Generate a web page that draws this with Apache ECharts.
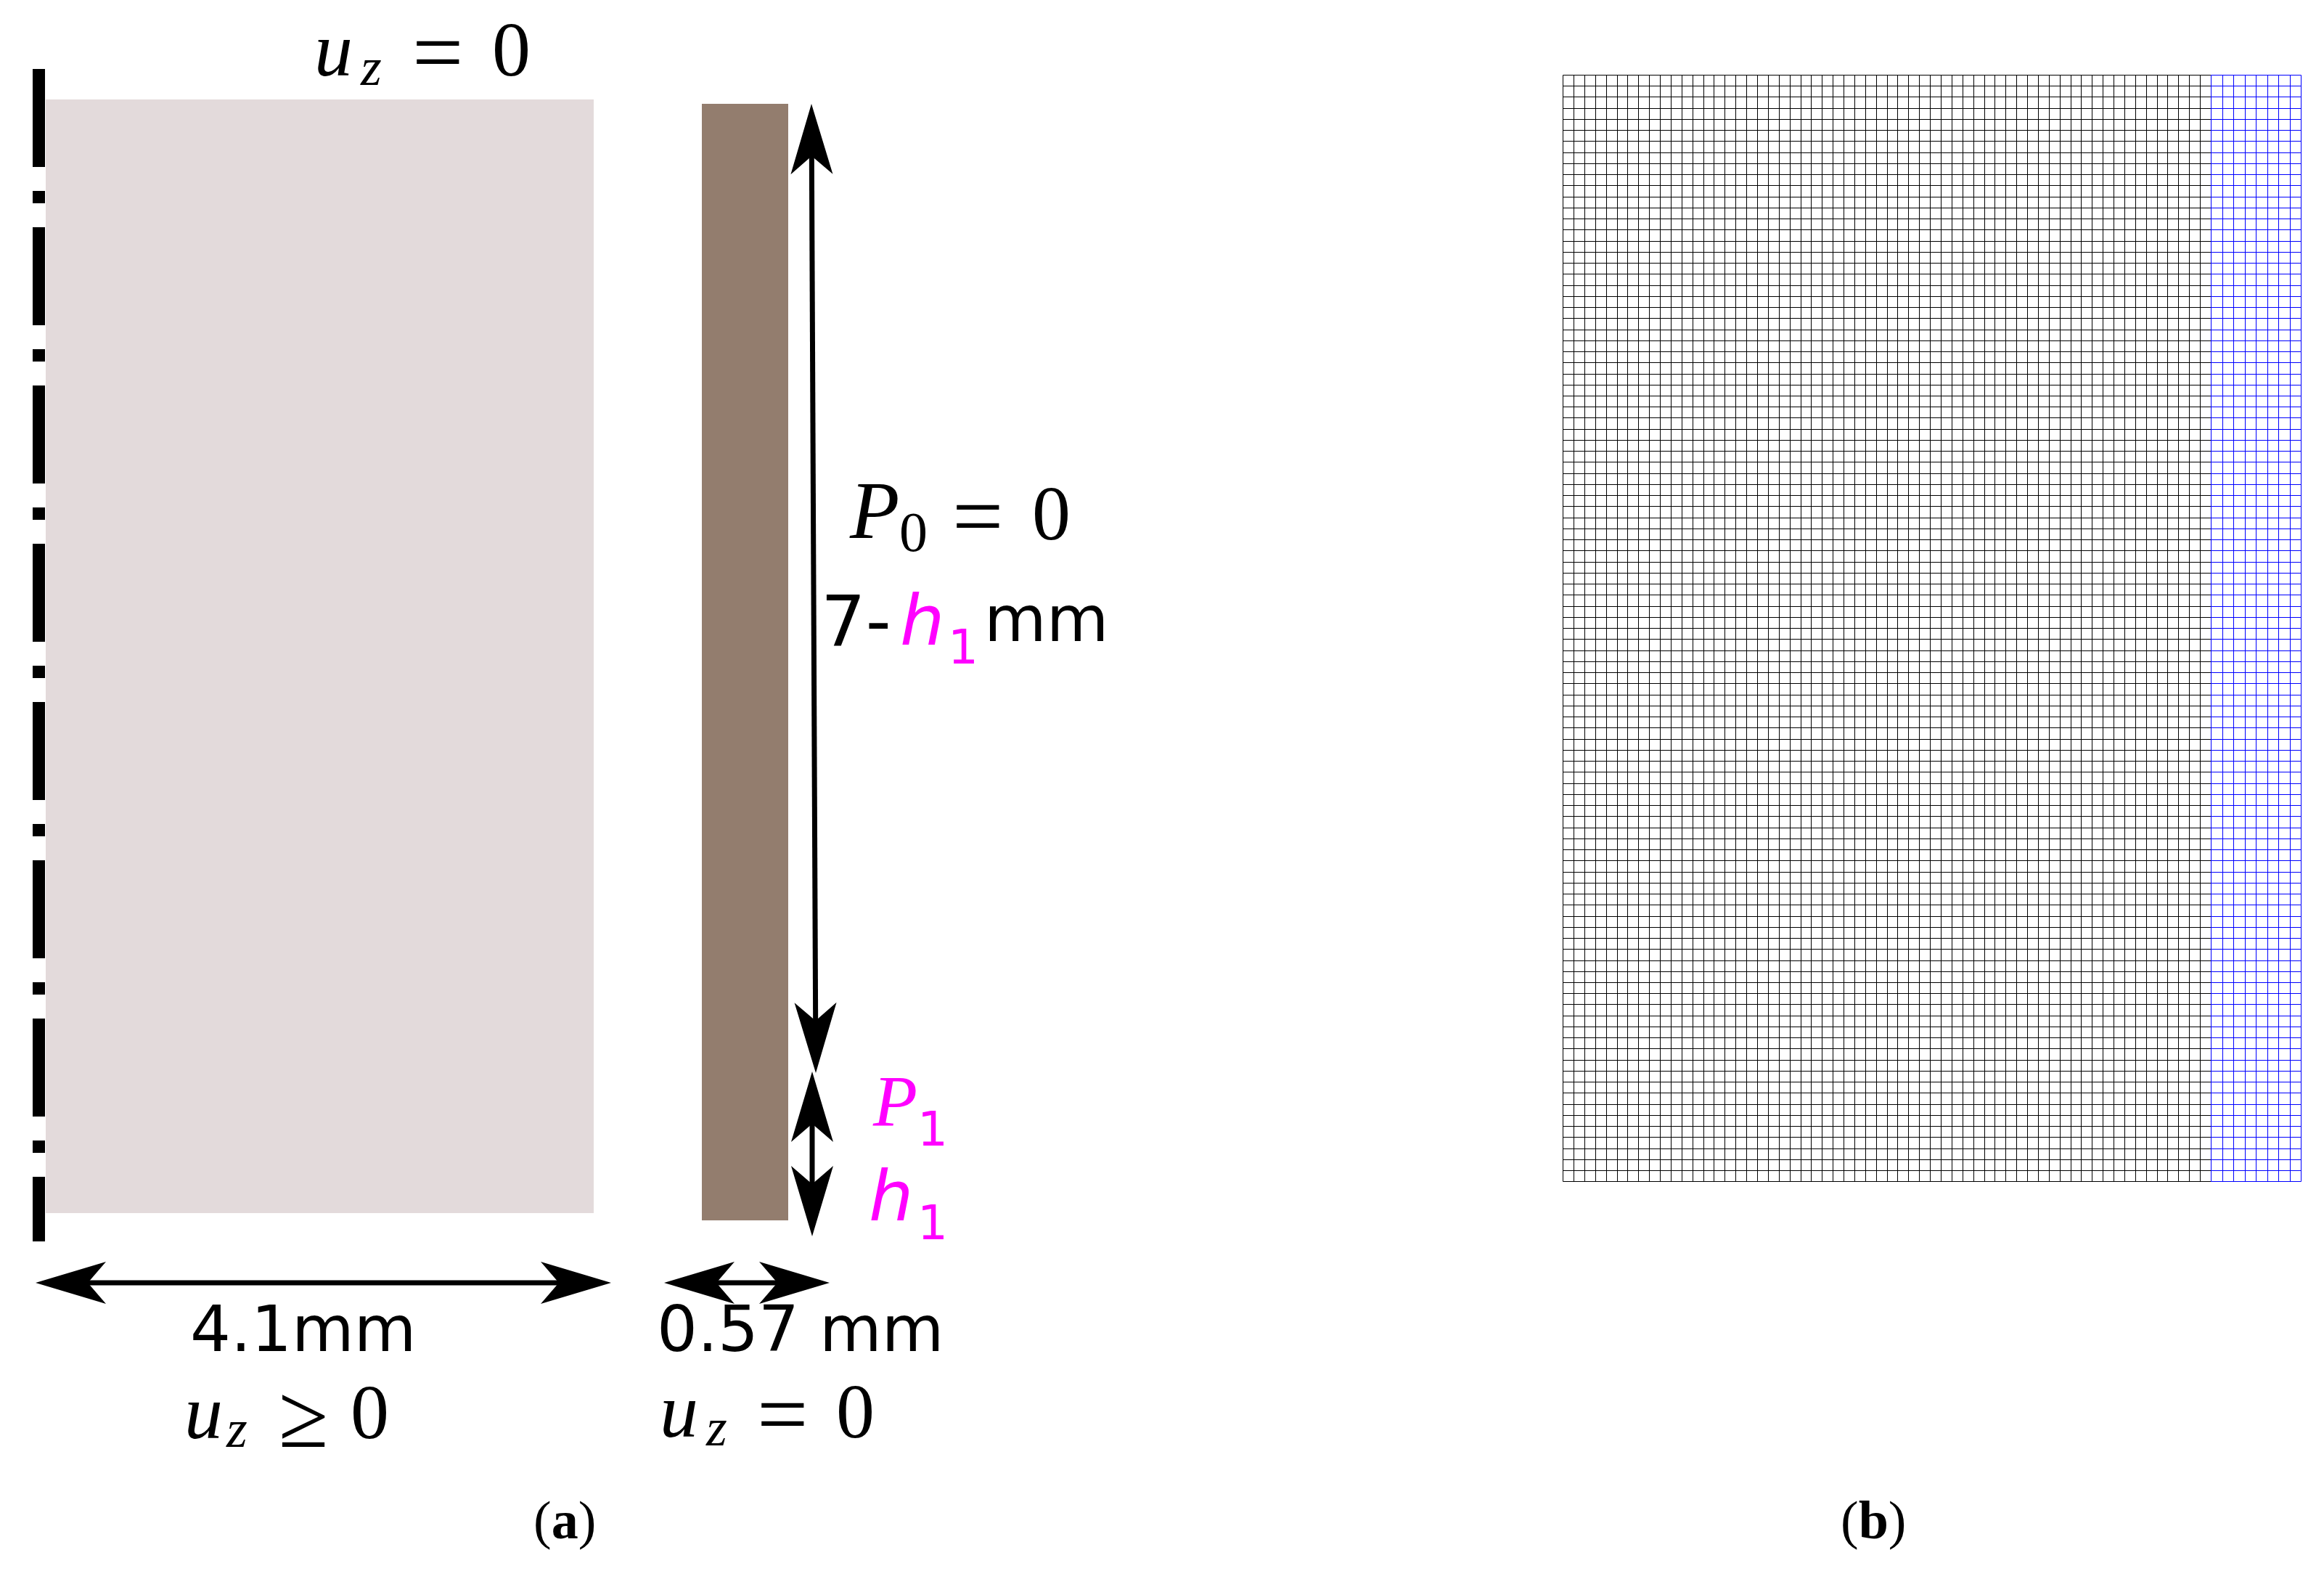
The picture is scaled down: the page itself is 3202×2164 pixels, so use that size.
<!DOCTYPE html>
<html>
<head>
<meta charset="utf-8">
<style>html,body{margin:0;padding:0;background:#fff}#chart{width:3202px;height:2164px}</style>
<script src="https://cdn.jsdelivr.net/npm/echarts@6/dist/echarts.min.js"></script>
</head>
<body>
<div id="chart"></div>
<script>
// ---- mesh data (panel b), in millimetres and cell counts
const meshCoreWidthMm = 4.1;
const meshWallWidthMm = 0.57;
const meshHeightMm = 7;
const meshCoreCells = 60;
const meshWallCells = 8;
const meshRows = 100;

// ---- schematic data (panel a), in diagram units
const coreRect = [63, 137, 818, 1671];
const wallRect = [967, 143, 1086, 1681];
const symmetryAxis = [53.5, 95, 53.5, 1710];
const dimensionArrows = [
  [1118, 143, 1124, 1478],
  [1119, 1476, 1119, 1703],
  [49, 1767, 842, 1767],
  [915, 1767, 1143, 1767]
];

// ---- texts
const labelTexts = ['u','z','=','0','P','0','=','0','7-','h','1','mm','P','1','h','1',
  '4.1mm','0.57 mm','u','z','≥','0','u','z','=','0'];
const labelX = [433,497,568,678,1171,1239,1312,1422,1131,1240,1306,1356,1203,1264,1197,1264,
  262,905,254,312,384,483,909,973,1043,1152];
const labelBaseline = [103,116,112,103,740,758,751,742,888,887,913,882,1549,1577,1680,1706,
  1860,1860,1980,1992,1991,1980,1978,1990,1988,1979];
const labelFonts = ['mi','ms','eq','mr','pb','mr2','eq','mr','sn','so','ss','sm','pi','ss','so','ss',
  'sm','sm','mi','ms','eq','mr','mi','ms','eq','mr'];
const labelColors = [0,0,0,0,0,0,0,0,0,1,1,0,1,1,1,1,0,0,0,0,0,0,0,0,0,0];
const captionLetters = ['a','b'];

const fontStyles = {
  mi:  {family:'Liberation Serif', size:106, style:'italic', weight:'normal'},
  ms:  {family:'Liberation Serif', size:74,  style:'italic', weight:'normal'},
  mr:  {family:'Liberation Serif', size:106, style:'normal', weight:'normal'},
  eq:  {family:'Liberation Serif', size:125, style:'normal', weight:'normal'},
  mr2: {family:'Liberation Serif', size:78,  style:'normal', weight:'normal'},
  pb:  {family:'Liberation Serif', size:112, style:'italic', weight:'normal'},
  pi:  {family:'Liberation Serif', size:100, style:'italic', weight:'normal'},
  sn:  {family:'DejaVu Sans', size:97, style:'normal', weight:'normal'},
  so:  {family:'DejaVu Sans', size:97, style:'oblique', weight:'normal'},
  ss:  {family:'DejaVu Sans', size:66, style:'normal', weight:'normal'},
  sm:  {family:'DejaVu Sans', size:88, style:'normal', weight:'normal'}
};
const inkColors = ['#000000', '#ff00ff'];
const CORE_COLOR = '#e3dadb', WALL_COLOR = '#937d6e';
const MESH_BLACK = '#000000', MESH_BLUE = '#0000ff';

// ---- build mesh segments from the counts
const meshTotal = meshCoreWidthMm + meshWallWidthMm;
const meshSegments = [];
for (let k = 0; k <= meshRows; k++) {
  const y = meshHeightMm * k / meshRows;
  meshSegments.push([0, y, meshCoreWidthMm, y, 0]);
}
for (let k = 0; k < meshCoreCells; k++) {
  const x = meshCoreWidthMm * k / meshCoreCells;
  meshSegments.push([x, 0, x, meshHeightMm, 0]);
}
for (let k = 0; k <= meshRows; k++) {
  const y = meshHeightMm * k / meshRows;
  meshSegments.push([meshCoreWidthMm, y, meshTotal, y, 1]);
}
for (let k = 0; k <= meshWallCells; k++) {
  const x = meshCoreWidthMm + meshWallWidthMm * k / meshWallCells;
  meshSegments.push([x, 0, x, meshHeightMm, 1]);
}

const snap = v => Math.round(v) + 0.5;

function renderMesh(params, api) {
  const a = api.coord([api.value(0), api.value(1)]);
  const b = api.coord([api.value(2), api.value(3)]);
  return {
    type: 'line',
    shape: {x1: snap(a[0]), y1: snap(a[1]), x2: snap(b[0]), y2: snap(b[1])},
    style: {stroke: api.value(4) ? MESH_BLUE : MESH_BLACK, lineWidth: 1}
  };
}

function renderRect(params, api) {
  const a = api.coord([api.value(0), api.value(1)]);
  const b = api.coord([api.value(2), api.value(3)]);
  return {
    type: 'rect',
    shape: {x: a[0], y: a[1], width: b[0] - a[0], height: b[1] - a[1]},
    style: {fill: params.dataIndex === 0 ? CORE_COLOR : WALL_COLOR}
  };
}

function renderAxisLine(params, api) {
  const a = api.coord([api.value(0), api.value(1)]);
  const b = api.coord([api.value(2), api.value(3)]);
  return {
    type: 'line',
    shape: {x1: a[0], y1: a[1], x2: b[0], y2: b[1]},
    style: {stroke: '#000', lineWidth: 17, lineDash: [135, 33, 17, 33], lineCap: 'butt'}
  };
}

const HEAD_LEN = 97, HEAD_NOTCH = 72, HEAD_HALF = 29, SHAFT = 7;
function renderArrow(params, api) {
  const a = api.coord([api.value(0), api.value(1)]);
  const b = api.coord([api.value(2), api.value(3)]);
  const dx = b[0] - a[0], dy = b[1] - a[1], len = Math.hypot(dx, dy);
  const ux = dx / len, uy = dy / len, nx = -uy, ny = ux;
  const head = (tip, s) => ({
    type: 'polygon',
    shape: {points: [
      tip,
      [tip[0] + s * ux * HEAD_LEN + nx * HEAD_HALF, tip[1] + s * uy * HEAD_LEN + ny * HEAD_HALF],
      [tip[0] + s * ux * HEAD_NOTCH, tip[1] + s * uy * HEAD_NOTCH],
      [tip[0] + s * ux * HEAD_LEN - nx * HEAD_HALF, tip[1] + s * uy * HEAD_LEN - ny * HEAD_HALF]
    ]},
    style: {fill: '#000'}
  });
  return {
    type: 'group',
    children: [
      {type: 'line',
       shape: {x1: a[0] + ux * HEAD_NOTCH, y1: a[1] + uy * HEAD_NOTCH,
               x2: b[0] - ux * HEAD_NOTCH, y2: b[1] - uy * HEAD_NOTCH},
       style: {stroke: '#000', lineWidth: SHAFT}},
      head(a, 1), head(b, -1)
    ]
  };
}

function renderLabel(params, api) {
  const i = params.dataIndex;
  const f = fontStyles[labelFonts[i]];
  const p = api.coord([api.value(0), api.value(1)]);
  return {
    type: 'text',
    style: {
      x: p[0], y: p[1] - 0.25 * f.size,
      text: labelTexts[i],
      fontFamily: f.family, fontSize: f.size, fontStyle: f.style, fontWeight: f.weight,
      fill: inkColors[labelColors[i]],
      align: 'left', verticalAlign: 'middle'
    }
  };
}

const captionPositions = [[735, 2125], [2536, 2125]];
function renderCaption(params, api) {
  const p = api.coord([api.value(0), api.value(1)]);
  return {
    type: 'text',
    style: {
      x: p[0], y: p[1] - 0.34 * 74,
      text: '{p|(}{b|' + captionLetters[params.dataIndex] + '}{p|)}',
      fill: '#000', align: 'left', verticalAlign: 'middle',
      rich: {
        p: {fontFamily: 'Liberation Serif', fontSize: 74, fill: '#000'},
        b: {fontFamily: 'Liberation Serif', fontSize: 74, fontWeight: 'bold', fill: '#000'}
      }
    }
  };
}

const hiddenAxis = (extra) => Object.assign({type: 'value', show: false, splitLine: {show: false}}, extra);
const seg = {x: [0, 2], y: [1, 3]};
const custom = (name, gridIdx, data, renderItem, encode) => ({
  type: 'custom', name, xAxisIndex: gridIdx, yAxisIndex: gridIdx, data, renderItem, encode,
  clip: false, silent: true, animation: false
});

const chart = echarts.init(document.getElementById('chart'), null, {renderer: 'canvas', devicePixelRatio: 1});
chart.setOption({
  backgroundColor: '#ffffff',
  animation: false,
  tooltip: {show: false},
  grid: [
    {left: 0, top: 0, width: 3202, height: 2164},
    {left: 2153.15, top: 102.9, width: 1017, height: 1524.5}
  ],
  xAxis: [
    hiddenAxis({gridIndex: 0, min: 0, max: 3202}),
    hiddenAxis({gridIndex: 1, min: 0, max: meshTotal})
  ],
  yAxis: [
    hiddenAxis({gridIndex: 0, min: 0, max: 2164, inverse: true}),
    hiddenAxis({gridIndex: 1, min: 0, max: meshHeightMm, inverse: true})
  ],
  series: [
    custom('Regions', 0, [coreRect, wallRect], renderRect, seg),
    custom('Symmetry axis', 0, [symmetryAxis], renderAxisLine, seg),
    custom('Dimensions', 0, dimensionArrows, renderArrow, seg),
    custom('Labels', 0, labelX.map((x, i) => [x, labelBaseline[i]]), renderLabel, {x: 0, y: 1}),
    custom('Captions', 0, captionPositions, renderCaption, {x: 0, y: 1}),
    custom('Mesh', 1, meshSegments, renderMesh, seg)
  ]
});
</script>
</body>
</html>
